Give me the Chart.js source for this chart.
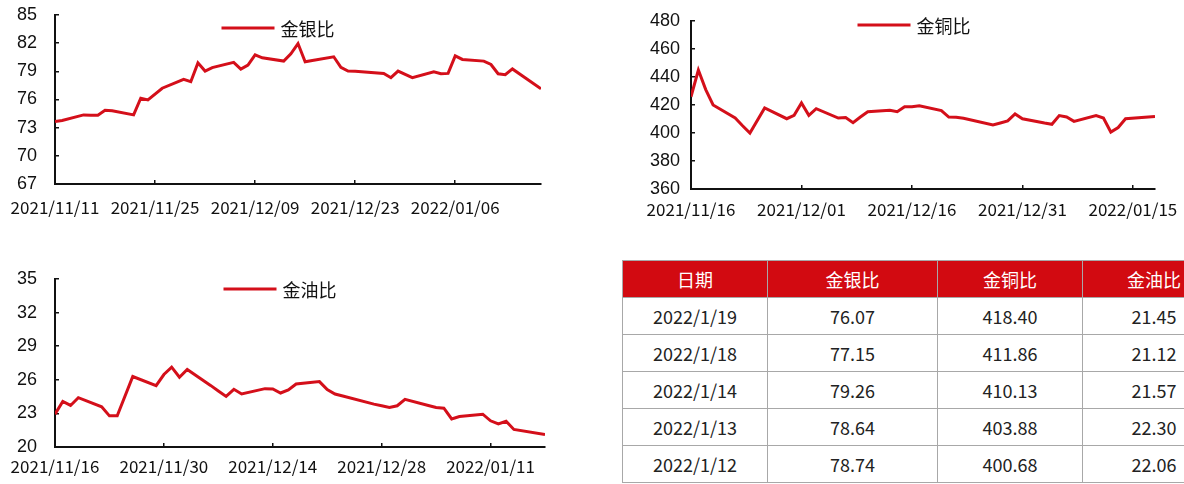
<!DOCTYPE html>
<html><head><meta charset="utf-8">
<script src="https://cdn.jsdelivr.net/npm/chart.js@4.4.1/dist/chart.umd.min.js"></script>
<style>
html,body{margin:0;padding:0;background:#fff;width:1184px;height:484px;overflow:hidden}
body{position:relative}
canvas{position:absolute;display:block}
#c1{left:0;top:0}
#c2{left:600px;top:0}
#c3{left:0;top:255px}
#tbl{position:absolute;left:622px;top:260px;border-collapse:collapse;table-layout:fixed;width:603px;font-family:"Noto Sans CJK SC","Noto Sans",sans-serif;font-size:18px;color:#222}
#tbl th,#tbl td{border:1.5px solid #a8a8a8;text-align:center;padding:0;font-weight:normal}
#tbl th{background:#d20a11;color:#fff;height:36px}
#tbl td{height:36px}
</style>
</head><body>
<canvas id="c1" width="560" height="225"></canvas>
<canvas id="c2" width="584" height="225"></canvas>
<canvas id="c3" width="560" height="229"></canvas>
<table id="tbl"><colgroup><col style="width:145px"><col style="width:170px"><col style="width:145px"><col style="width:143px"></colgroup><thead><tr id="thead"></tr></thead><tbody id="tbody"></tbody></table>
<script>
// ---------- data ----------
const silverDates = ['2021/11/11','2021/11/12','2021/11/15','2021/11/16','2021/11/17','2021/11/18','2021/11/19','2021/11/22','2021/11/23','2021/11/24','2021/11/26','2021/11/29','2021/11/30','2021/12/01','2021/12/02','2021/12/03','2021/12/06','2021/12/07','2021/12/08','2021/12/09','2021/12/10','2021/12/13','2021/12/14','2021/12/15','2021/12/16','2021/12/17','2021/12/20','2021/12/21','2021/12/22','2021/12/23','2021/12/27','2021/12/28','2021/12/29','2021/12/30','2021/12/31','2022/01/03','2022/01/04','2022/01/05','2022/01/06','2022/01/07','2022/01/10','2022/01/11','2022/01/12','2022/01/13','2022/01/14','2022/01/18'];
const silverValues = [73.66,73.77,74.36,74.33,74.33,74.86,74.80,74.36,76.13,75.95,77.20,78.14,77.90,79.90,79.03,79.40,79.95,79.24,79.66,80.76,80.44,80.09,80.87,81.96,80.02,80.16,80.55,79.42,79.03,79.00,78.78,78.32,79.03,78.67,78.32,78.96,78.75,78.78,80.65,80.27,80.09,79.73,78.74,78.64,79.26,77.15];

const copperDates = ['2021/11/16','2021/11/17','2021/11/18','2021/11/19','2021/11/22','2021/11/23','2021/11/24','2021/11/26','2021/11/29','2021/11/30','2021/12/01','2021/12/02','2021/12/03','2021/12/06','2021/12/07','2021/12/08','2021/12/09','2021/12/10','2021/12/13','2021/12/14','2021/12/15','2021/12/16','2021/12/17','2021/12/20','2021/12/21','2021/12/22','2021/12/23','2021/12/27','2021/12/28','2021/12/29','2021/12/30','2021/12/31','2022/01/03','2022/01/04','2022/01/05','2022/01/06','2022/01/07','2022/01/10','2022/01/11','2022/01/12','2022/01/13','2022/01/14','2022/01/18'];
const copperValues = [425.9,445.0,431.0,420.0,410.7,405.2,400.0,417.9,410.2,412.6,421.4,412.6,417.4,410.7,411.0,407.4,411.4,415.2,416.2,415.2,418.8,418.8,419.5,416.0,411.4,411.2,410.5,405.7,407.1,408.6,413.6,410.2,407.1,406.2,412.4,411.4,408.3,412.4,410.7,400.68,403.88,410.13,411.86];

const oilDates = ['2021/11/16','2021/11/17','2021/11/18','2021/11/19','2021/11/22','2021/11/23','2021/11/24','2021/11/26','2021/11/29','2021/11/30','2021/12/01','2021/12/02','2021/12/03','2021/12/06','2021/12/07','2021/12/08','2021/12/09','2021/12/10','2021/12/13','2021/12/14','2021/12/15','2021/12/16','2021/12/17','2021/12/20','2021/12/21','2021/12/22','2021/12/23','2021/12/27','2021/12/28','2021/12/29','2021/12/30','2021/12/31','2022/01/03','2022/01/04','2022/01/05','2022/01/06','2022/01/07','2022/01/10','2022/01/11','2022/01/12','2022/01/13','2022/01/14','2022/01/18'];
const oilValues = [22.93,24.07,23.71,24.40,23.59,22.78,22.78,26.29,25.48,26.47,27.13,26.23,26.92,25.50,25.00,24.52,25.15,24.73,25.21,25.18,24.82,25.09,25.63,25.84,25.12,24.73,24.55,23.83,23.68,23.53,23.68,24.25,23.71,23.53,23.47,22.51,22.72,22.93,22.34,22.06,22.30,21.57,21.12];

const silverXTicks = ['2021/11/11','2021/11/25','2021/12/09','2021/12/23','2022/01/06'];
const copperXTicks = ['2021/11/16','2021/12/01','2021/12/16','2021/12/31','2022/01/15'];
const oilXTicks = ['2021/11/16','2021/11/30','2021/12/14','2021/12/28','2022/01/11'];
const silverYTicks = [67,70,73,76,79,82,85];
const copperYTicks = [360,380,400,420,440,460,480];
const oilYTicks = [20,23,26,29,32,35];

const tableHeader = ['日期','金银比','金铜比','金油比'];
const tableDates = ['2022/1/19','2022/1/18','2022/1/14','2022/1/13','2022/1/12'];
const tableSilver = ['76.07','77.15','79.26','78.64','78.74'];
const tableCopper = ['418.40','411.86','410.13','403.88','400.68'];
const tableOil = ['21.45','21.12','21.57','22.30','22.06'];

// ---------- helpers ----------
const RED = '#d40f1a';
function dayNum(s){const p=s.split('/').map(Number);return Date.UTC(p[0],p[1]-1,p[2])/86400000;}

const lineLegend = {
  id:'lineLegend',
  afterDraw(chart, args, o){
    const ctx = chart.ctx, ds = chart.data.datasets[0];
    ctx.save();
    ctx.font = '18px "Noto Sans CJK SC"';
    const tw = ctx.measureText(ds.label).width;
    const total = o.lineLen + o.gap + tw;
    const x0 = o.cx - total/2;
    ctx.strokeStyle = ds.borderColor; ctx.lineWidth = 3;
    ctx.beginPath(); ctx.moveTo(x0, o.y); ctx.lineTo(x0 + o.lineLen, o.y); ctx.stroke();
    ctx.fillStyle = '#111'; ctx.textBaseline = 'middle';
    ctx.fillText(ds.label, x0 + o.lineLen + o.gap, o.y + 1);
    ctx.restore();
  }
};

function makeChart(id, label, dates, values, xTicks, yTicks, L){
  const start = dayNum(xTicks[0]);
  const pts = dates.map((d,i)=>({x: dayNum(d)-start, y: values[i]}));
  const tickMap = {};
  xTicks.forEach(t=>{ tickMap[dayNum(t)-start] = t; });
  new Chart(document.getElementById(id), {
    type:'line',
    data:{datasets:[{label, data: pts, borderColor: RED, backgroundColor: RED, borderWidth: 3, pointRadius: 0, tension: 0, fill:false}]},
    options:{
      responsive:false, animation:false, events:[],
      layout:{padding:{top:L.top, right:L.right, left:0, bottom:0}},
      plugins:{legend:{display:false}, tooltip:{enabled:false}, lineLegend:{cx:L.lcx, y:L.ly, lineLen:53, gap:6}},
      scales:{
        x:{type:'linear', min:0, max: pts[pts.length-1].x,
          afterBuildTicks: s => { s.ticks = Object.keys(tickMap).map(v=>({value:Number(v)})); },
          afterFit: s => { s.height = L.xh; s.paddingLeft = 0; s.paddingRight = 0; },
          ticks:{autoSkip:false, maxRotation:0, padding: L.xpad, color:'#111', font:{family:'"Noto Sans CJK SC"', size:17}, callback: v => tickMap[v] || ''},
          grid:{drawOnChartArea:false, drawTicks:true, tickLength:-4, color:'#111', lineWidth:1.5},
          border:{display:true, color:'#111', width:2}
        },
        y:{min: yTicks[0], max: yTicks[yTicks.length-1],
          afterBuildTicks: s => { s.ticks = yTicks.map(v=>({value:v})); },
          afterFit: s => { s.width = L.yw; s.paddingTop = 0; s.paddingBottom = 0; },
          ticks:{padding: L.ypad, color:'#111', font:{family:'"Liberation Sans"', size:18}},
          grid:{drawOnChartArea:false, drawTicks:true, tickLength:-4, color:'#111', lineWidth:1.5},
          border:{display:true, color:'#111', width:2}
        }
      }
    },
    plugins:[lineLegend]
  });
}

makeChart('c1','金银比',silverDates,silverValues,silverXTicks,silverYTicks,{top:15,right:19,xh:41,yw:55,xpad:17,ypad:22,lcx:278,ly:28});
makeChart('c2','金铜比',copperDates,copperValues,copperXTicks,copperYTicks,{top:21,right:29,xh:36,yw:91,xpad:14,ypad:15,lcx:314,ly:25});
makeChart('c3','金油比',oilDates,oilValues,oilXTicks,oilYTicks,{top:24,right:15,xh:37,yw:55,xpad:13,ypad:22,lcx:280,ly:34});

// ---------- table ----------
const thead = document.getElementById('thead');
tableHeader.forEach(h=>{const th=document.createElement('th');th.textContent=h;thead.appendChild(th);});
const tbody = document.getElementById('tbody');
tableDates.forEach((d,i)=>{
  const tr=document.createElement('tr');
  [d,tableSilver[i],tableCopper[i],tableOil[i]].forEach(v=>{const td=document.createElement('td');td.textContent=v;tr.appendChild(td);});
  tbody.appendChild(tr);
});
</script>
</body></html>
